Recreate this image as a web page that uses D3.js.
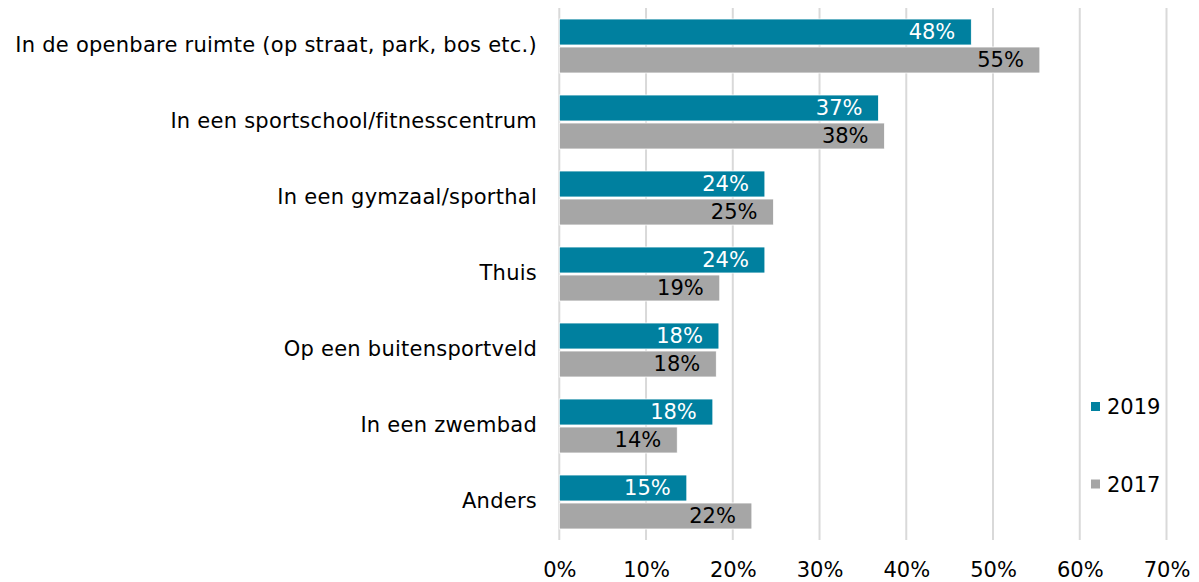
<!DOCTYPE html>
<html>
<head>
<meta charset="utf-8">
<script src="https://cdn.jsdelivr.net/npm/d3@7"></script>
<style>
  html, body { margin: 0; padding: 0; background: #fff; }
  svg { display: block; font-family: "DejaVu Sans", Verdana, sans-serif; }
</style>
</head>
<body>
<svg id="chart" width="1199" height="582"></svg>
<script>
// Waar wordt gesport: aandeel per locatie, 2019 vs 2017
const categories = [
  "In de openbare ruimte (op straat, park, bos etc.)",
  "In een sportschool/fitnesscentrum",
  "In een gymzaal/sporthal",
  "Thuis",
  "Op een buitensportveld",
  "In een zwembad",
  "Anders"
];
const seriesNames = ["2019", "2017"];
const values2019 = [47.5, 36.8, 23.7, 23.7, 18.4, 17.7, 14.7];
const values2017 = [55.4, 37.5, 24.7, 18.5, 18.1, 13.6, 22.2];
const xTicks = [0, 10, 20, 30, 40, 50, 60, 70];

const colors = { "2019": "#00809f", "2017": "#a6a6a6" };
const labelColors = { "2019": "#ffffff", "2017": "#000000" };
const fontSize = 21;

const seriesValues = { "2019": values2019, "2017": values2017 };
const rows = categories.map((c, i) => ({
  category: c,
  bars: seriesNames.map(s => ({ series: s, value: seriesValues[s][i] }))
}));

const svg = d3.select("#chart");
const plotLeft = 559.3, plotRight = 1166.5, plotTop = 8, plotBottom = 540;

const x = d3.scaleLinear().domain([0, 70]).range([plotLeft, plotRight]);
const y = d3.scaleBand().domain(categories).range([plotTop, plotBottom])
  .paddingInner(22 / 76).paddingOuter(11 / 76);
const ySub = d3.scaleBand().domain(seriesNames).range([0, y.bandwidth()])
  .paddingInner(2 / 28);

// vertical gridlines
svg.append("g").selectAll("line").data(xTicks).join("line")
  .attr("x1", d => x(d)).attr("x2", d => x(d))
  .attr("y1", plotTop).attr("y2", plotBottom)
  .attr("stroke", "#d9d9d9").attr("stroke-width", 2);

// bars
const groups = svg.append("g").selectAll("g").data(rows).join("g")
  .attr("transform", d => `translate(0,${y(d.category)})`);

groups.selectAll("rect").data(d => d.bars).join("rect")
  .attr("x", x(0))
  .attr("y", d => ySub(d.series))
  .attr("width", d => x(d.value) - x(0))
  .attr("height", ySub.bandwidth())
  .attr("fill", d => colors[d.series])
  .attr("stroke", "#ffffff").attr("stroke-width", 0.8);

// value labels inside bar end
groups.selectAll("text").data(d => d.bars).join("text")
  .attr("x", d => x(d.value) - 16)
  .attr("y", d => ySub(d.series) + ySub.bandwidth() / 2)
  .attr("dy", "0.35em")
  .attr("text-anchor", "end")
  .attr("font-size", fontSize)
  .attr("fill", d => labelColors[d.series])
  .text(d => Math.round(d.value) + "%");

// category labels
const yAxis = d3.axisLeft(y).tickSize(0).tickPadding(0);
const gy = svg.append("g").attr("transform", `translate(${537},0)`).call(yAxis);
gy.select(".domain").remove();
gy.selectAll("text").attr("font-size", fontSize).attr("fill", "#000")
  .attr("letter-spacing", 0.25)
  .attr("font-family", "DejaVu Sans, Verdana, sans-serif").attr("dy", "0.3em");

// x axis tick labels
const xAxis = d3.axisBottom(x).tickValues(xTicks).tickSize(0).tickPadding(0)
  .tickFormat(d => d + "%");
const gx = svg.append("g").attr("transform", `translate(0,${569.5})`).call(xAxis);
gx.select(".domain").remove();
gx.selectAll("text").attr("font-size", fontSize).attr("fill", "#000")
  .attr("font-family", "DejaVu Sans, Verdana, sans-serif").attr("dy", "0.36em");

// legend
const legendY = { "2019": 406.5, "2017": 484 };
const legend = svg.append("g").selectAll("g").data(seriesNames).join("g")
  .attr("transform", d => `translate(1091,${legendY[d]})`);
legend.append("rect").attr("x", 0).attr("y", -4.5).attr("width", 9).attr("height", 9)
  .attr("fill", d => colors[d]);
legend.append("text").attr("x", 16).attr("dy", "0.36em")
  .attr("font-size", fontSize).attr("fill", "#000").text(d => d);
</script>
</body>
</html>
